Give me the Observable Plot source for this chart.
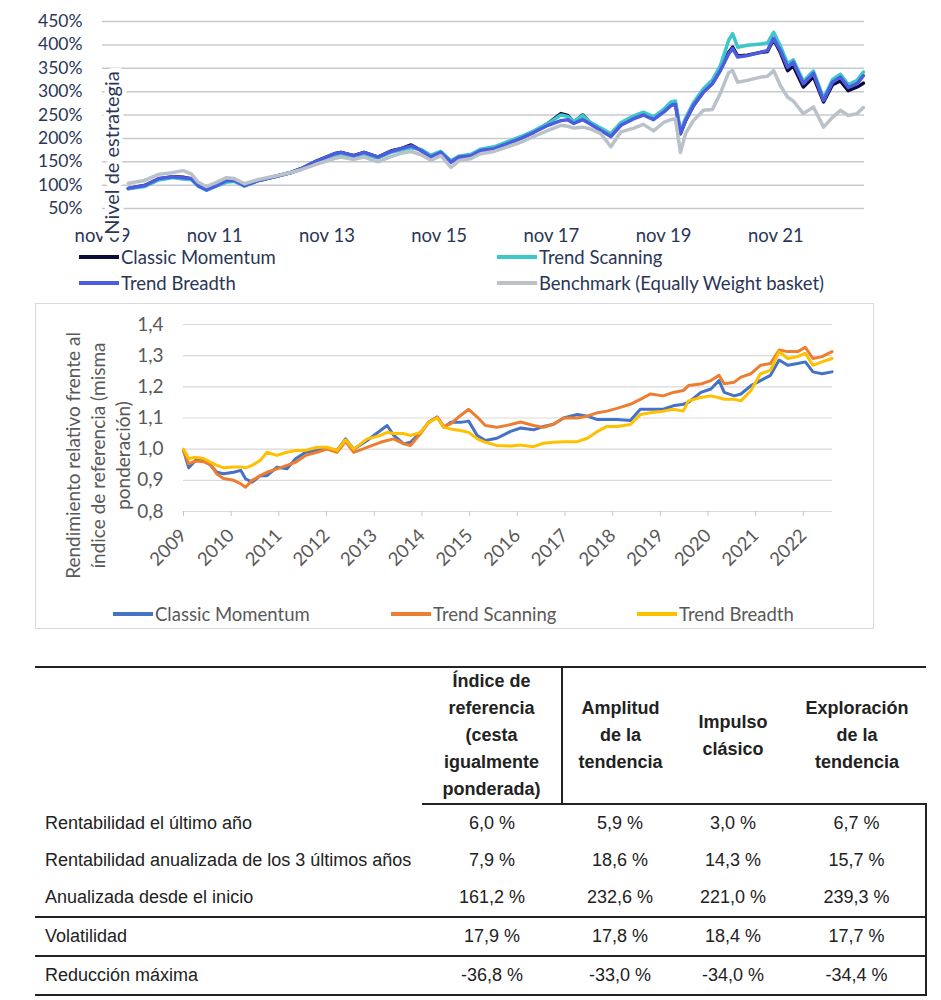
<!DOCTYPE html>
<html><head><meta charset="utf-8">
<script src="https://cdn.jsdelivr.net/npm/d3@7"></script>
<script src="https://cdn.jsdelivr.net/npm/@observablehq/plot@0.6"></script>
<style>
body{margin:0;background:#fff;width:941px;height:1000px;overflow:hidden;position:relative;font-family:Lato,sans-serif}
#c1,#c2{position:absolute;left:0}
#c1{top:0}
#c2{top:304px}
.lg{position:absolute;display:flex;align-items:center;height:20px;font-size:18.5px;white-space:nowrap}
.sw{display:inline-block;width:40px;height:4px;margin-right:2px}
#box2{position:absolute;left:35px;top:303px;width:839px;height:326px;border:1px solid #d9d9d9;box-sizing:border-box}
table{position:absolute;left:35px;top:666px;border-collapse:collapse;table-layout:fixed;font-family:"Liberation Sans",Arial,sans-serif;font-size:18px;color:#222}
table th,table td{padding:0;text-align:center;vertical-align:middle}
table thead{border-top:2px solid #222}
table th{font-weight:bold;line-height:27px}
th.c1{border-right:2px solid #222;border-bottom:2px solid #222}
th.cv{border-bottom:2px solid #222}
td.last{border-right:2px solid #222}
tr.sep td{border-bottom:2px solid #222}
td.lab{text-align:left;padding-left:10px}
</style></head>
<body>
<div id="c1"></div>
<div id="box2"></div>
<div id="c2"></div>
<div id="legends"></div>
<table id="tbl"></table>
<script>
// ---------- Chart 1: Nivel de estrategia ----------
const c1XTicks = [2009.83, 2011.83, 2013.83, 2015.83, 2017.83, 2019.83, 2021.83];
const c1XLabels = ["nov 09", "nov 11", "nov 13", "nov 15", "nov 17", "nov 19", "nov 21"];
const c1YTicks = [50, 100, 150, 200, 250, 300, 350, 400, 450];
const c1Series = ["Classic Momentum", "Trend Scanning", "Trend Breadth", "Benchmark (Equally Weight basket)"];
const c1Colors = ["#0c0c3a", "#3ec6c9", "#4d5de0", "#b9c1c9"];
const c1Years = [2010.29,2010.58,2010.83, 2011.09,2011.27,2011.41,2011.54,2011.68,2011.86, 2012.04,2012.18,2012.36,2012.61,2012.89, 2013.19,2013.37,2013.60,2013.96, 2014.08,2014.31,2014.49,2014.74,2014.97, 2015.15,2015.33,2015.51,2015.68,2015.86, 2016.04,2016.18,2016.40,2016.57,2016.81, 2017.05,2017.29,2017.52,2017.77, 2018.00,2018.12,2018.23,2018.39,2018.53,2018.71,2018.89, 2019.07,2019.30,2019.47,2019.65,2019.83,2019.96, 2020.04,2020.13,2020.22,2020.36,2020.54,2020.70,2020.84,2020.99, 2021.06,2021.15,2021.32,2021.56,2021.68,2021.79,2021.91, 2022.04,2022.14,2022.32,2022.50,2022.68,2022.84,2022.98, 2023.12,2023.28,2023.39];
const c1ClassicMomentum = [93,99,113, 118,117,113,99,90,100, 110,111,99,110,118, 127,135,149,167, 170,163,170,160,173, 178,186,174,160,170, 150,160,163,174,178, 190,201,214,232, 253,249,235,250,232,218,206, 230,244,252,242,258,272, 275,210,238,270,300,318,346,384, 395,376,378,384,386,412,384, 345,355,310,332,278,315,323, 302,310,318];
const c1TrendScanning = [92,97,111, 116,113,112,97,89,98, 106,108,98,110,118, 127,134,146,163, 166,160,167,158,170, 175,180,176,164,172, 152,162,166,177,182, 193,204,216,232, 250,247,236,249,234,222,210, 234,248,256,246,262,278, 280,215,243,276,306,325,355,410, 424,395,399,402,404,427,398, 360,368,322,344,286,326,337, 315,324,342];
const c1TrendBreadth = [93,99,114, 118,116,114,99,90,99, 110,110,99,110,118, 127,135,149,167, 170,163,170,160,172, 178,184,174,160,170, 149,160,163,174,178, 189,200,213,228, 238,240,232,240,230,217,204, 228,242,250,240,256,270, 273,210,238,270,299,317,345,381, 392,374,377,384,388,414,388, 352,363,317,339,281,320,331, 309,317,334];
const c1Benchmark = [104,110,123, 127,131,124,106,97,106, 116,114,103,112,119, 127,133,143,157, 160,155,160,150,161, 168,172,165,153,163, 138,152,157,167,172, 182,192,204,217, 228,226,222,224,220,210,182, 214,222,230,216,234,240, 242,170,210,238,260,262,296,341, 345,320,324,331,333,345,313, 288,280,253,267,224,245,260, 249,253,266];

// ---------- Chart 2: Rendimiento relativo ----------
const c2XTicks = [2009,2010,2011,2012,2013,2014,2015,2016,2017,2018,2019,2020,2021,2022];
const c2YTicks = [0.8, 0.9, 1.0, 1.1, 1.2, 1.3, 1.4];
const c2YLabels = ["0,8","0,9","1,0","1,1","1,2","1,3","1,4"];
const c2Series = ["Classic Momentum", "Trend Scanning", "Trend Breadth"];
const c2Colors = ["#4472c4", "#ed7d31", "#ffc000"];
const c2Years = [2009.00,2009.11,2009.25,2009.42,2009.57,2009.70,2009.84, 2010.05,2010.20,2010.30,2010.44,2010.61,2010.75,2010.96, 2011.17,2011.35,2011.56,2011.80, 2012.01,2012.22,2012.40,2012.57,2012.85, 2013.13,2013.27,2013.41,2013.62,2013.76,2013.97, 2014.14,2014.32,2014.46,2014.60,2014.81,2014.98, 2015.16,2015.33,2015.57,2015.86, 2016.07,2016.34,2016.55,2016.76,2016.97, 2017.26,2017.47,2017.68,2017.88, 2018.09,2018.37,2018.58,2018.79, 2019.06,2019.27,2019.48,2019.59,2019.85, 2020.06,2020.23,2020.34,2020.55,2020.69,2020.90, 2021.10,2021.31,2021.49,2021.67,2021.88, 2022.04,2022.20,2022.39,2022.60];
const c2ClassicMomentum = [0.996,0.940,0.964,0.964,0.948,0.926,0.921, 0.926,0.932,0.905,0.894,0.915,0.915,0.942, 0.937,0.969,0.990,0.996, 1.003,0.996,1.033,1.000,1.028, 1.060,1.076,1.044,1.017,1.022,1.054, 1.086,1.103,1.070,1.086,1.086,1.090, 1.044,1.028,1.035,1.057, 1.068,1.062,1.073,1.080,1.100, 1.111,1.106,1.095,1.095, 1.095,1.092,1.128,1.128, 1.128,1.139,1.144,1.150,1.182, 1.193,1.220,1.182,1.171,1.177,1.204, 1.220,1.237,1.286,1.269,1.275, 1.280,1.248,1.242,1.248];
const c2TrendScanning = [0.996,0.953,0.962,0.960,0.950,0.920,0.906, 0.900,0.889,0.878,0.900,0.915,0.926,0.937, 0.948,0.958,0.980,0.990, 1.000,0.990,1.025,0.990,1.006, 1.022,1.028,1.033,1.017,1.012,1.050, 1.086,1.103,1.072,1.081,1.108,1.128, 1.103,1.076,1.070,1.079, 1.087,1.076,1.070,1.080,1.100, 1.100,1.106,1.117,1.122, 1.131,1.144,1.160,1.177, 1.171,1.182,1.188,1.204,1.209, 1.220,1.237,1.210,1.215,1.231,1.242, 1.269,1.275,1.318,1.313,1.313, 1.327,1.291,1.297,1.313];
const c2TrendBreadth = [1.000,0.970,0.974,0.970,0.958,0.948,0.940, 0.943,0.943,0.940,0.948,0.964,0.990,0.980, 0.990,0.996,0.996,1.006, 1.006,0.996,1.030,1.000,1.033, 1.044,1.054,1.050,1.050,1.044,1.054, 1.086,1.100,1.070,1.065,1.060,1.054, 1.033,1.022,1.012,1.010, 1.013,1.008,1.019,1.022,1.024, 1.024,1.035,1.057,1.073, 1.073,1.079,1.111,1.117, 1.122,1.128,1.122,1.155,1.166, 1.171,1.165,1.160,1.160,1.155,1.188, 1.242,1.253,1.313,1.291,1.297, 1.308,1.269,1.280,1.291];

// ---------- Table ----------
const tblHeaders = [["Índice de","referencia","(cesta","igualmente","ponderada)"], ["Amplitud","de la","tendencia"], ["Impulso","clásico"], ["Exploración","de la","tendencia"]];
const tblRows = ["Rentabilidad el último año", "Rentabilidad anualizada de los 3 últimos años", "Anualizada desde el inicio", "Volatilidad", "Reducción máxima"];
const tblBenchmark = ["6,0 %", "7,9 %", "161,2 %", "17,9 %", "-36,8 %"];
const tblAmplitud = ["5,9 %", "18,6 %", "232,6 %", "17,8 %", "-33,0 %"];
const tblImpulso = ["3,0 %", "14,3 %", "221,0 %", "18,4 %", "-34,0 %"];
const tblExploracion = ["6,7 %", "15,7 %", "239,3 %", "17,7 %", "-34,4 %"];

// ----- build chart 1 -----
const c1Values = [c1ClassicMomentum, c1TrendScanning, c1TrendBreadth, c1Benchmark];
const c1Lines = c1Values.map((vals, k) => Plot.line(c1Years.map((t, i) => ({t, v: vals[i]})), {x: "t", y: "v", stroke: c1Colors[k], strokeWidth: 3.5}));
const txt1 = "#2a3656";
const ch1 = Plot.plot({
  width: 941, height: 245, marginLeft: 102, marginRight: 77, marginTop: 21, marginBottom: 37,
  style: {fontFamily: "Lato", fontSize: "17px", background: "transparent", overflow: "visible"},
  x: {domain: [2009.83, 2023.41], label: null},
  y: {domain: [50, 450], label: null},
  marks: [
    Plot.gridY(c1YTicks, {stroke: "#c6cacf", strokeOpacity: 1, strokeWidth: 1.5}),
    ...c1Lines,
    Plot.axisY(c1YTicks, {tickSize: 0, tickPadding: 20, tickFormat: d => d + "%", fill: txt1, fontSize: 17.5, label: null}),
    Plot.axisX(c1XTicks, {tickSize: 0, tickPadding: 20, tickFormat: (d, i) => c1XLabels[i], fill: txt1, fontSize: 18.5, label: null}),
    Plot.text(["Nivel de estrategia"], {frameAnchor: "left", rotate: -90, dx: 10, dy: 38, fontSize: 20, fill: txt1, stroke: "white", strokeWidth: 9, textAnchor: "middle"})
  ]
});
document.getElementById("c1").appendChild(ch1);

// ----- build chart 2 -----
const c2Values = [c2ClassicMomentum, c2TrendScanning, c2TrendBreadth];
const c2Lines = c2Values.map((vals, k) => Plot.line(c2Years.map((t, i) => ({t, v: vals[i]})), {x: "t", y: "v", stroke: c2Colors[k], strokeWidth: 3}));
const txt2 = "#595959";
const ch2 = Plot.plot({
  width: 941, height: 290, marginLeft: 183, marginRight: 109, marginTop: 20, marginBottom: 83,
  style: {fontFamily: "Lato", fontSize: "18px", background: "transparent", overflow: "visible"},
  x: {domain: [2009, 2022.61], label: null},
  y: {domain: [0.8, 1.4], label: null},
  marks: [
    Plot.gridY(c2YTicks, {stroke: "#d9d9d9", strokeOpacity: 1, strokeWidth: 1.2}),
    ...c2Lines,
    Plot.axisY(c2YTicks, {tickSize: 0, tickPadding: 20, tickFormat: (d, i) => c2YLabels[i], fill: txt2, fontSize: 19, label: null}),
    Plot.axisX(c2XTicks, {tickSize: 5, tickPadding: 16, tickRotate: -45, stroke: "#c8c8c8", fill: txt2, fontSize: 18.5, tickFormat: d => String(d), label: null}),
    Plot.text(["Rendimiento relativo frente al\níndice de referencia (misma\nponderación)"], {frameAnchor: "left", rotate: -90, dx: -86.5, dy: 37.5, lineHeight: 1.3, fontSize: 19, fill: txt2, textAnchor: "middle", lineAnchor: "middle"})
  ]
});
document.getElementById("c2").appendChild(ch2);

// ----- legends -----
const legendItems = [
  {label: c1Series[0], color: c1Colors[0], left: 79, top: 247, text: txt1},
  {label: c1Series[1], color: c1Colors[1], left: 497, top: 247, text: txt1},
  {label: c1Series[2], color: c1Colors[2], left: 79, top: 273, text: txt1},
  {label: c1Series[3], color: c1Colors[3], left: 497, top: 273, text: txt1},
  {label: c2Series[0], color: c2Colors[0], left: 113, top: 604, text: txt2},
  {label: c2Series[1], color: c2Colors[1], left: 391, top: 604, text: txt2},
  {label: c2Series[2], color: c2Colors[2], left: 637, top: 604, text: txt2}
];
const lg = document.getElementById("legends");
legendItems.forEach(it => {
  const d = document.createElement("div");
  d.className = "lg";
  d.style.left = it.left + "px"; d.style.top = it.top + "px"; d.style.color = it.text;
  const s = document.createElement("span"); s.className = "sw"; s.style.background = it.color;
  d.appendChild(s); d.appendChild(document.createTextNode(it.label));
  lg.appendChild(d);
});

// ----- table -----
const tbl = document.getElementById("tbl");
const colW = [387, 140, 116, 110, 138];
const cg = document.createElement("colgroup");
colW.forEach(w => { const c = document.createElement("col"); c.style.width = w + "px"; cg.appendChild(c); });
tbl.appendChild(cg);
const thead = document.createElement("thead");
const hr = document.createElement("tr"); hr.style.height = "135px";
const th0 = document.createElement("th"); hr.appendChild(th0);
tblHeaders.forEach((lines, k) => {
  const th = document.createElement("th");
  th.className = k === 0 ? "c1" : "cv";
  th.innerHTML = lines.join("<br>");
  hr.appendChild(th);
});
thead.appendChild(hr); tbl.appendChild(thead);
const tbody = document.createElement("tbody");
const rowH = [38, 37, 38, 39, 39];
tblRows.forEach((lab, i) => {
  const tr = document.createElement("tr");
  tr.style.height = rowH[i] + "px";
  if (i >= 2) tr.className = "sep";
  const tdl = document.createElement("td"); tdl.className = "lab"; tdl.textContent = lab; tr.appendChild(tdl);
  [tblBenchmark, tblAmplitud, tblImpulso, tblExploracion].forEach((col, k) => {
    const td = document.createElement("td"); td.textContent = col[i];
    if (k === 3) td.className = "last";
    tr.appendChild(td);
  });
  tbody.appendChild(tr);
});
tbl.appendChild(tbody);
</script>
</body></html>
